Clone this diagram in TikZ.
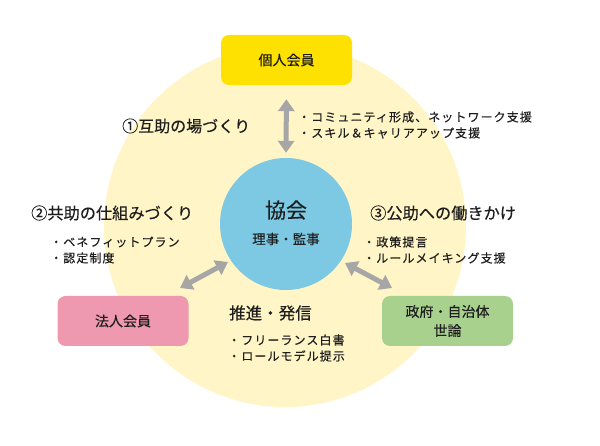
\documentclass[tikz,border=0pt]{standalone}
\usepackage{fontspec}
\setmainfont{Noto Sans CJK JP}[RawFeature={embolden=0.35}]
\newfontfamily\bulletfont{Noto Sans CJK JP}[LetterSpace=9,RawFeature={embolden=0.35}]
\usetikzlibrary{arrows.meta}
\definecolor{bgyellow}{HTML}{FFF5C6}
\definecolor{boxyellow}{HTML}{FFE100}
\definecolor{kyokaiblue}{HTML}{7DC9E3}
\definecolor{boxpink}{HTML}{EE99B0}
\definecolor{boxgreen}{HTML}{A9D18E}
\definecolor{arrowgray}{HTML}{A6A6A6}
\definecolor{txt}{HTML}{1E1E1E}
\tikzset{
  member/.style={rounded corners=8pt, minimum width=131pt, minimum height=50pt,
    inner sep=0pt, align=center, text=txt, font=\fontsize{14}{19}\selectfont},
  dblarrow/.style={draw=arrowgray, line width=5pt,
    {Triangle[width=16pt,length=12pt]}-{Triangle[width=16pt,length=12pt]}},
  heading/.style={anchor=west, inner sep=0pt, text=txt},
  bullets/.style={anchor=west, inner sep=0pt, align=left, text=txt,
    font=\bulletfont\fontsize{12}{16}\selectfont},
}
\begin{document}
\begin{tikzpicture}[x=1pt,y=-1pt]
\fill[white] (0,0) rectangle (600,446);
\useasboundingbox (0,0) rectangle (600,446);
% background circle
\node[circle, fill=bgyellow, minimum size=362pt, inner sep=0pt] (bg) at (285,226) {};
% centre
\node[circle, fill=kyokaiblue, minimum size=132pt, inner sep=0pt] (kyokai) at (286,224) {};
\node[inner sep=0pt, text=txt, font=\fontsize{21}{24}\selectfont] (kyokainame) at (286,210) {協会};
\node[inner sep=0pt, text=txt, font=\fontsize{13.5}{16}\selectfont] (riji) at (286,239) {理事・監事};
% member boxes
\node[member, fill=boxyellow] (kojin) at (286.5,60) {個人会員};
\node[member, fill=boxpink] (hojin) at (123,321) {法人会員};
\node[member, fill=boxgreen] (seifu) at (447.5,321) {政府・自治体\\世論};
% arrows
\coordinate (la) at (180,288);
\coordinate (lb) at (228,262);
\coordinate (ra) at (345,263);
\coordinate (rb) at (392,288);
\draw[dblarrow, shorten <=14pt, shorten >=5pt] (kojin.south) -- (kyokai.north);
\draw[dblarrow] (la) -- (lb);
\draw[dblarrow] (ra) -- (rb);
% headings
\node[heading, font=\fontsize{16}{19}\selectfont] (h1) at (122,126) {①互助の場づくり};
\node[heading, font=\fontsize{16.2}{19}\selectfont] (h2) at (31,213) {②共助の仕組みづくり};
\node[heading, font=\fontsize{16.2}{19}\selectfont] (h3) at (370,213) {③公助への働きかけ};
\node[heading, font=\fontsize{16.5}{19}\selectfont] (h4) at (229,313) {推進・発信};
% bullet lists
\node[bullets] (b1) at (298,125) {・コミュニティ形成、ネットワーク支援\\・スキル＆キャリアアップ支援};
\node[bullets] (b2) at (50,250) {・ベネフィットプラン\\・認定制度};
\node[bullets] (b3) at (363,250) {・政策提言\\・ルールメイキング支援};
\node[bullets] (b4) at (228,348) {・フリーランス白書\\・ロールモデル提示};
\end{tikzpicture}
\end{document}
